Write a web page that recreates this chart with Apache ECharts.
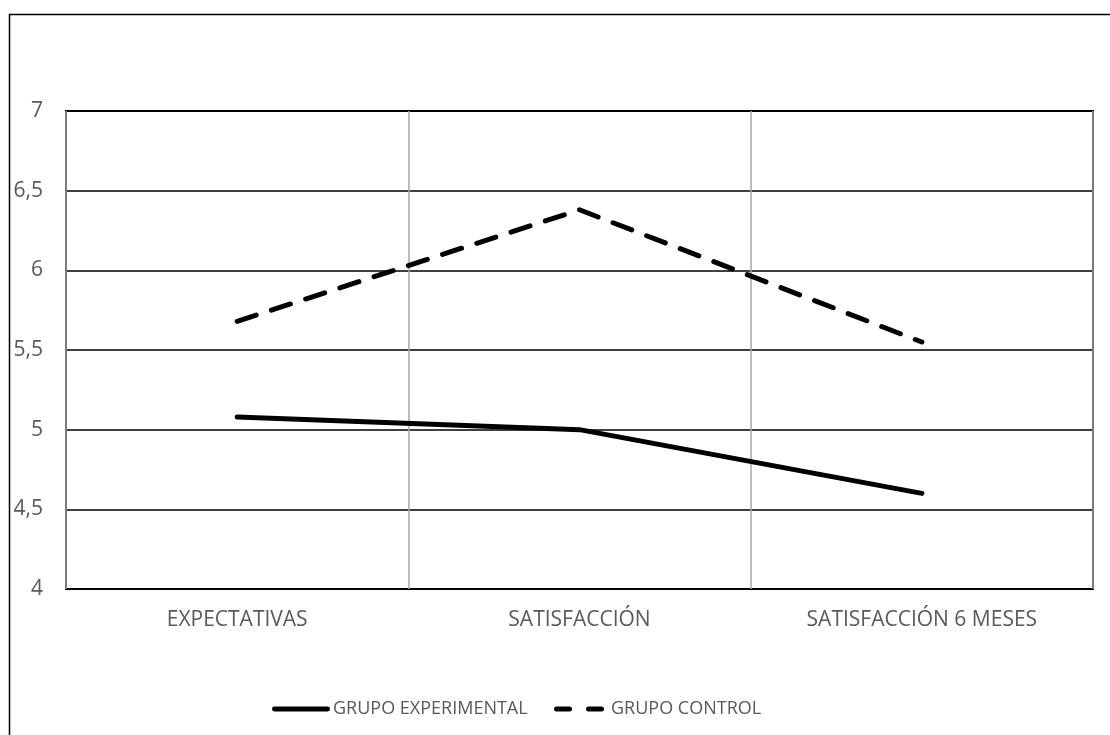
<!DOCTYPE html>
<html><head><meta charset="utf-8">
<script src="https://cdn.jsdelivr.net/npm/echarts@6/dist/echarts.min.js"></script>
<style>html,body{margin:0;padding:0;background:#fff;}#c{width:1110px;height:735px;}</style>
</head><body><div id="c"></div>
<script>
var categories = ['EXPECTATIVAS', 'SATISFACCIÓN', 'SATISFACCIÓN 6 MESES'];
var seriesNames = ['GRUPO EXPERIMENTAL', 'GRUPO CONTROL'];
var experimental = [5.08, 5.0, 4.6];
var control = [5.68, 6.38, 5.55];
var yMin = 4, yMax = 7, yStep = 0.5;

var font = "'Open Sans', sans-serif";
var fs = 21;
var solidIcon = 'path://M2.5,0 L57.5,0 A2.5,2.5 0 0 1 57.5,5 L2.5,5 A2.5,2.5 0 0 1 2.5,0 Z';
var dashIcon = 'path://M2.5,0 L15.5,0 A2.5,2.5 0 0 1 15.5,5 L2.5,5 A2.5,2.5 0 0 1 2.5,0 Z M34.5,0 L47.5,0 A2.5,2.5 0 0 1 47.5,5 L34.5,5 A2.5,2.5 0 0 1 34.5,0 Z';
var legendText1 = {fontFamily: font, fontSize: 18, color: '#595959', padding: [0, 0, 0, -2]};
var legendText2 = {fontFamily: font, fontSize: 18, color: '#595959', padding: [0, 0, 0, 2]};

var chart = echarts.init(document.getElementById('c'));
chart.setOption({
  animation: false,
  backgroundColor: '#fff',
  graphic: [{
    type: 'rect', silent: true,
    shape: {x: 9.5, y: 14.5, width: 1200, height: 800},
    style: {fill: 'none', stroke: '#000', lineWidth: 1.5}
  }],
  grid: {left: 66, right: 17, top: 111, bottom: 146, show: true, borderColor: '#000', borderWidth: 2, backgroundColor: 'transparent'},
  legend: [
    {left: 267, top: 695, itemWidth: 58, itemHeight: 5, itemGap: 0, textStyle: legendText1,
     data: [{name: seriesNames[0], icon: solidIcon, itemStyle: {color: '#000'}}]},
    {left: 549, top: 695, itemWidth: 50, itemHeight: 5, itemGap: 0, textStyle: legendText2,
     data: [{name: seriesNames[1], icon: dashIcon, itemStyle: {color: '#000'}}]}
  ],
  xAxis: {
    type: 'category', data: categories, boundaryGap: true,
    axisLine: {show: false}, axisTick: {show: false},
    axisLabel: {margin: 21, fontFamily: font, fontSize: fs, color: '#595959'},
    splitLine: {show: true, lineStyle: {color: '#a6a6a6', width: 1.5}}
  },
  yAxis: {
    type: 'value', min: yMin, max: yMax, interval: yStep,
    axisLine: {show: false}, axisTick: {show: false},
    axisLabel: {margin: 23, fontFamily: font, fontSize: fs, color: '#595959',
      formatter: function (v) { return String(v).replace('.', ','); }},
    splitLine: {show: true, lineStyle: {color: '#000', width: 1.5}}
  },
  series: [
    {name: seriesNames[0], type: 'line', data: experimental, symbol: 'none',
     lineStyle: {color: '#000', width: 5, cap: 'round', join: 'round'}, itemStyle: {color: '#000'}},
    {name: seriesNames[1], type: 'line', data: control, symbol: 'none',
     lineStyle: {color: '#000', width: 5, type: [20, 16], cap: 'round', join: 'round'}, itemStyle: {color: '#000'}}
  ]
});
</script></body></html>
